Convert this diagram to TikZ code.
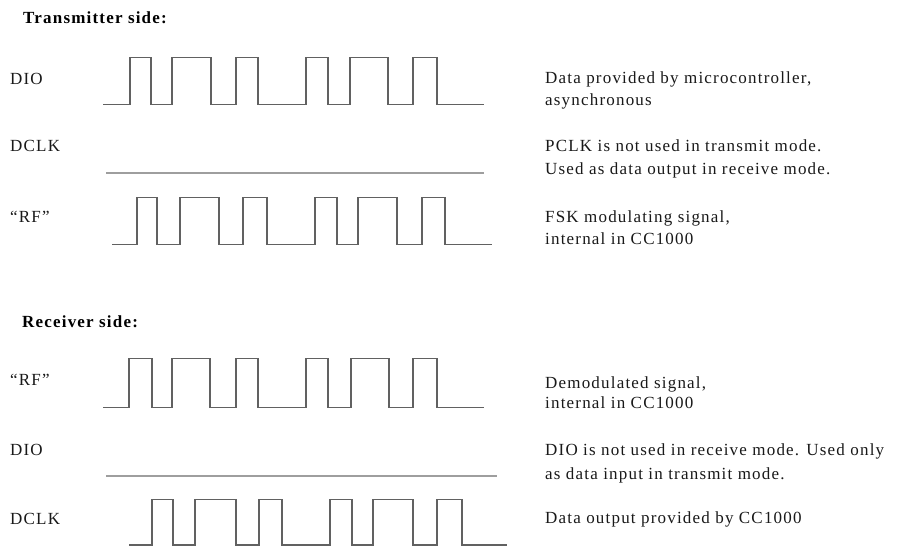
\documentclass[tikz,border=0pt]{standalone}
\usepackage{fontspec}
\setmainfont{Liberation Serif}[LetterSpace=7]
\begin{document}
\begin{tikzpicture}[x=1pt,y=-1pt,
  wave/.style={draw=black!62,line width=1.4pt,line join=miter},
  flat/.style={draw=black!38,line width=1.8pt},
  lbl/.style={anchor=base west,inner sep=0pt,font=\fontsize{17}{20}\selectfont,text=black!90},
  head/.style={anchor=base west,inner sep=0pt,font=\fontsize{17}{20}\selectfont\bfseries,text=black},
  desc/.style={anchor=base west,inner sep=0pt,font=\fontsize{17}{20}\selectfont,text=black!90}]
\useasboundingbox (0,0) rectangle (898,547);
\fill[white] (0,0) rectangle (898,547);
% headings
\node[head] (htx) at (23,23) {Transmitter side:};
\node[head] (hrx) at (22,327) {Receiver side:};
% left labels
\node[lbl] (l1) at (10,84) {DIO};
\node[lbl] (l2) at (10,151) {DCLK};
\node[lbl] (l3) at (10,222) {“RF”};
\node[lbl] (l4) at (10,385) {“RF”};
\node[lbl] (l5) at (10,455) {DIO};
\node[lbl] (l6) at (10,524) {DCLK};
% waveforms
\draw[wave] (103,104.5) -| (130,57.5) -| (151,104.5) -| (172,57.5) -| (211,104.5) -| (236,57.5) -| (258,104.5) -| (306,57.5) -| (328,104.5) -| (350,57.5) -| (388,104.5) -| (413,57.5) -| (437,104.5) -- (484,104.5);
\draw[flat] (106,173.3) -- (484,173.3);
\draw[wave] (112,244.7) -| (137,197.3) -| (157,244.7) -| (180,197.3) -| (219,244.7) -| (243,197.3) -| (267,244.7) -| (315,197.3) -| (337,244.7) -| (358,197.3) -| (397,244.7) -| (422,197.3) -| (445,244.7) -- (492,244.7);
\draw[wave] (103,407.3) -| (129,358.3) -| (152,407.3) -| (172,358.3) -| (210,407.3) -| (236,358.3) -| (258,407.3) -| (306,358.3) -| (328,407.3) -| (351,358.3) -| (389,407.3) -| (413,358.3) -| (437,407.3) -- (484,407.3);
\draw[flat] (106,476) -- (497,476);
\draw[wave] (129,545) -| (152,499.3) -| (173,545) -| (195,499.3) -| (236,545) -| (259,499.3) -| (282,545) -| (330,499.3) -| (352,545) -| (373,499.3) -| (413,545) -| (437,499.3) -| (462,545) -- (507,545);
% descriptions
\node[desc] (d1a) at (545,83) {Data provided by microcontroller,};
\node[desc] (d1b) at (545,105) {asynchronous};
\node[desc] (d2a) at (545,151) {PCLK is not used in transmit mode.};
\node[desc] (d2b) at (545,174) {Used as data output in receive mode.};
\node[desc] (d3a) at (545,222) {FSK modulating signal,};
\node[desc] (d3b) at (545,244) {internal in CC1000};
\node[desc] (d4a) at (545,388) {Demodulated signal,};
\node[desc] (d4b) at (545,408) {internal in CC1000};
\node[desc] (d5a) at (545,455) {DIO is not used in receive mode. Used only};
\node[desc] (d5b) at (545,479) {as data input in transmit mode.};
\node[desc] (d6) at (545,523) {Data output provided by CC1000};
\end{tikzpicture}
\end{document}
